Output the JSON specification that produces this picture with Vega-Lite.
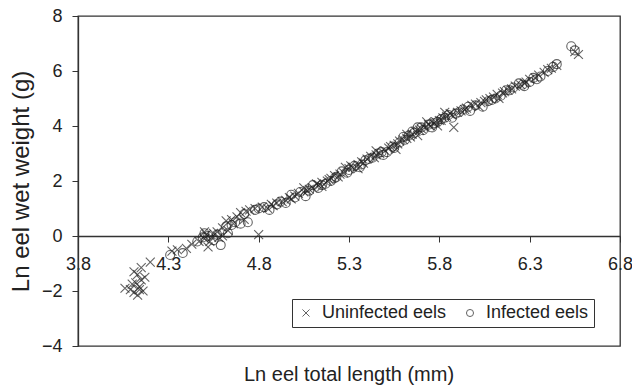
{
"$schema": "https://vega.github.io/schema/vega-lite/v6.json",
"width": 542, "height": 330,
"autosize": {"type": "none"},
"padding": {"left": 78, "top": 16, "right": 12, "bottom": 44},
"background": "white",
"config": {"view": {"stroke": "#333", "strokeWidth": 1.3}, "font": "Liberation Sans"},
"title": {"text": "Ln eel total length (mm)", "orient": "bottom", "anchor": "middle", "fontSize": 20, "fontWeight": "normal", "color": "#222", "offset": 10},
"data": {"values": [
{"x":4.06,"y":-1.9,"s":"U"},{"x":4.09,"y":-1.95,"s":"U"},{"x":4.11,"y":-2.05,"s":"U"},{"x":4.13,"y":-2.15,"s":"U"},{"x":4.14,"y":-1.85,"s":"U"},{"x":4.12,"y":-1.7,"s":"U"},{"x":4.15,"y":-1.6,"s":"U"},{"x":4.13,"y":-1.4,"s":"U"},{"x":4.11,"y":-1.3,"s":"U"},{"x":4.15,"y":-1.15,"s":"U"},{"x":4.17,"y":-1.5,"s":"U"},{"x":4.14,"y":-1.95,"s":"U"},{"x":4.16,"y":-2.0,"s":"U"},{"x":4.2,"y":-0.95,"s":"U"},{"x":4.1,"y":-1.75,"s":"U"},
{"x":4.32,"y":-0.55,"s":"U"},{"x":4.35,"y":-0.5,"s":"U"},{"x":4.4,"y":-0.45,"s":"U"},{"x":4.43,"y":-0.3,"s":"U"},{"x":4.47,"y":-0.2,"s":"U"},{"x":4.5,"y":-0.1,"s":"U"},{"x":4.51,"y":0.05,"s":"U"},{"x":4.52,"y":-0.4,"s":"U"},{"x":4.53,"y":-0.2,"s":"U"},{"x":4.55,"y":0.1,"s":"U"},{"x":4.5,"y":0.15,"s":"U"},{"x":4.58,"y":-0.05,"s":"U"},{"x":4.6,"y":0.3,"s":"U"},{"x":4.62,"y":0.55,"s":"U"},{"x":4.63,"y":0.2,"s":"U"},{"x":4.66,"y":0.45,"s":"U"},{"x":4.68,"y":0.7,"s":"U"},{"x":4.7,"y":0.85,"s":"U"},{"x":4.72,"y":0.6,"s":"U"},{"x":4.75,"y":0.95,"s":"U"},{"x":4.78,"y":1.0,"s":"U"},{"x":4.8,"y":0.05,"s":"U"},{"x":4.82,"y":1.05,"s":"U"},{"x":4.85,"y":1.0,"s":"U"},{"x":4.88,"y":1.1,"s":"U"},{"x":4.9,"y":1.2,"s":"U"},{"x":4.95,"y":1.3,"s":"U"},{"x":4.97,"y":1.4,"s":"U"},{"x":5.0,"y":1.45,"s":"U"},{"x":5.02,"y":1.55,"s":"U"},{"x":5.05,"y":1.6,"s":"U"},{"x":5.08,"y":1.7,"s":"U"},{"x":5.1,"y":1.75,"s":"U"},{"x":5.12,"y":1.9,"s":"U"},{"x":5.15,"y":1.95,"s":"U"},{"x":5.18,"y":2.0,"s":"U"},{"x":5.2,"y":2.1,"s":"U"},{"x":5.22,"y":2.2,"s":"U"},{"x":5.25,"y":2.25,"s":"U"},{"x":5.27,"y":2.3,"s":"U"},{"x":5.3,"y":2.45,"s":"U"},{"x":5.32,"y":2.5,"s":"U"},{"x":5.35,"y":2.6,"s":"U"},{"x":5.37,"y":2.7,"s":"U"},{"x":5.4,"y":2.8,"s":"U"},{"x":5.42,"y":2.9,"s":"U"},{"x":5.45,"y":2.95,"s":"U"},{"x":5.47,"y":3.0,"s":"U"},{"x":5.5,"y":3.1,"s":"U"},{"x":5.52,"y":3.2,"s":"U"},{"x":5.55,"y":3.3,"s":"U"},{"x":5.57,"y":3.35,"s":"U"},{"x":5.6,"y":3.5,"s":"U"},{"x":5.62,"y":3.55,"s":"U"},{"x":5.65,"y":3.7,"s":"U"},{"x":5.67,"y":3.8,"s":"U"},{"x":5.7,"y":3.9,"s":"U"},{"x":5.72,"y":3.95,"s":"U"},{"x":5.75,"y":4.0,"s":"U"},{"x":5.77,"y":4.1,"s":"U"},{"x":5.8,"y":4.2,"s":"U"},{"x":5.82,"y":4.3,"s":"U"},{"x":5.84,"y":4.35,"s":"U"},{"x":5.86,"y":4.45,"s":"U"},{"x":5.88,"y":3.95,"s":"U"},{"x":5.9,"y":4.5,"s":"U"},{"x":5.92,"y":4.55,"s":"U"},{"x":5.95,"y":4.65,"s":"U"},{"x":5.98,"y":4.75,"s":"U"},{"x":6.0,"y":4.8,"s":"U"},{"x":6.03,"y":4.85,"s":"U"},{"x":6.05,"y":4.9,"s":"U"},{"x":6.08,"y":5.0,"s":"U"},{"x":6.1,"y":5.05,"s":"U"},{"x":6.12,"y":5.15,"s":"U"},{"x":6.15,"y":5.2,"s":"U"},{"x":6.18,"y":5.3,"s":"U"},{"x":6.2,"y":5.35,"s":"U"},{"x":6.25,"y":5.5,"s":"U"},{"x":6.28,"y":5.6,"s":"U"},{"x":6.3,"y":5.7,"s":"U"},{"x":6.35,"y":5.85,"s":"U"},{"x":6.38,"y":5.95,"s":"U"},{"x":6.42,"y":6.1,"s":"U"},{"x":6.45,"y":6.2,"s":"U"},{"x":6.55,"y":6.7,"s":"U"},{"x":6.57,"y":6.6,"s":"U"},
{"x":5.56,"y":3.15,"s":"U"},{"x":5.62,"y":3.7,"s":"U"},{"x":5.68,"y":3.65,"s":"U"},{"x":5.73,"y":4.15,"s":"U"},{"x":5.79,"y":4.0,"s":"U"},{"x":5.83,"y":4.5,"s":"U"},{"x":5.35,"y":2.45,"s":"U"},{"x":5.28,"y":2.5,"s":"U"},{"x":5.45,"y":3.1,"s":"U"},{"x":5.15,"y":1.8,"s":"U"},{"x":5.05,"y":1.75,"s":"U"},{"x":4.93,"y":1.25,"s":"U"},{"x":4.57,"y":0.15,"s":"U"},{"x":4.54,"y":-0.05,"s":"U"},{"x":4.6,"y":0.0,"s":"U"},{"x":6.02,"y":4.7,"s":"U"},{"x":6.13,"y":5.0,"s":"U"},{"x":6.22,"y":5.45,"s":"U"},{"x":6.33,"y":5.75,"s":"U"},
{"x":4.98,"y":1.35,"s":"U"},{"x":5.07,"y":1.65,"s":"U"},{"x":5.13,"y":1.85,"s":"U"},{"x":5.24,"y":2.15,"s":"U"},{"x":5.31,"y":2.55,"s":"U"},{"x":5.38,"y":2.65,"s":"U"},{"x":5.44,"y":2.85,"s":"U"},{"x":5.53,"y":3.25,"s":"U"},{"x":5.58,"y":3.45,"s":"U"},{"x":5.64,"y":3.6,"s":"U"},{"x":5.69,"y":3.85,"s":"U"},{"x":5.74,"y":4.05,"s":"U"},{"x":5.78,"y":4.15,"s":"U"},{"x":5.81,"y":4.2,"s":"U"},{"x":5.87,"y":4.4,"s":"U"},{"x":5.94,"y":4.6,"s":"U"},{"x":6.06,"y":4.95,"s":"U"},{"x":6.16,"y":5.25,"s":"U"},{"x":6.27,"y":5.55,"s":"U"},{"x":6.4,"y":6.05,"s":"U"},{"x":4.65,"y":0.6,"s":"U"},{"x":4.73,"y":0.9,"s":"U"},{"x":4.87,"y":1.15,"s":"U"},{"x":5.19,"y":2.05,"s":"U"},
{"x":4.31,"y":-0.69,"s":"I"},{"x":4.38,"y":-0.62,"s":"I"},{"x":4.46,"y":-0.2,"s":"I"},{"x":4.49,"y":-0.05,"s":"I"},{"x":4.5,"y":0.1,"s":"I"},{"x":4.52,"y":0.0,"s":"I"},{"x":4.55,"y":-0.15,"s":"I"},{"x":4.59,"y":-0.33,"s":"I"},{"x":4.62,"y":0.35,"s":"I"},{"x":4.65,"y":0.4,"s":"I"},{"x":4.7,"y":0.45,"s":"I"},{"x":4.74,"y":0.5,"s":"I"},{"x":4.72,"y":0.8,"s":"I"},{"x":4.78,"y":0.95,"s":"I"},{"x":4.83,"y":1.05,"s":"I"},{"x":4.86,"y":0.95,"s":"I"},{"x":4.9,"y":1.15,"s":"I"},{"x":4.95,"y":1.2,"s":"I"},{"x":4.98,"y":1.5,"s":"I"},{"x":5.03,"y":1.6,"s":"I"},{"x":5.06,"y":1.45,"s":"I"},{"x":5.1,"y":1.85,"s":"I"},{"x":5.13,"y":1.75,"s":"I"},{"x":5.17,"y":1.9,"s":"I"},{"x":5.2,"y":2.0,"s":"I"},{"x":5.23,"y":2.15,"s":"I"},{"x":5.26,"y":2.35,"s":"I"},{"x":5.29,"y":2.3,"s":"I"},{"x":5.33,"y":2.55,"s":"I"},{"x":5.36,"y":2.5,"s":"I"},{"x":5.39,"y":2.75,"s":"I"},{"x":5.43,"y":2.85,"s":"I"},{"x":5.46,"y":3.0,"s":"I"},{"x":5.49,"y":2.95,"s":"I"},{"x":5.51,"y":3.05,"s":"I"},{"x":5.54,"y":3.25,"s":"I"},{"x":5.58,"y":3.4,"s":"I"},{"x":5.6,"y":3.6,"s":"I"},{"x":5.63,"y":3.65,"s":"I"},{"x":5.66,"y":3.75,"s":"I"},{"x":5.68,"y":3.95,"s":"I"},{"x":5.71,"y":3.85,"s":"I"},{"x":5.74,"y":4.05,"s":"I"},{"x":5.76,"y":3.95,"s":"I"},{"x":5.79,"y":4.15,"s":"I"},{"x":5.81,"y":4.25,"s":"I"},{"x":5.85,"y":4.4,"s":"I"},{"x":5.87,"y":4.3,"s":"I"},{"x":5.89,"y":4.45,"s":"I"},{"x":5.93,"y":4.6,"s":"I"},{"x":5.97,"y":4.55,"s":"I"},{"x":6.0,"y":4.75,"s":"I"},{"x":6.04,"y":4.7,"s":"I"},{"x":6.07,"y":4.9,"s":"I"},{"x":6.11,"y":5.0,"s":"I"},{"x":6.14,"y":5.1,"s":"I"},{"x":6.17,"y":5.3,"s":"I"},{"x":6.21,"y":5.4,"s":"I"},{"x":6.24,"y":5.55,"s":"I"},{"x":6.27,"y":5.45,"s":"I"},{"x":6.3,"y":5.6,"s":"I"},{"x":6.32,"y":5.75,"s":"I"},{"x":6.36,"y":5.8,"s":"I"},{"x":6.4,"y":6.0,"s":"I"},{"x":6.43,"y":6.15,"s":"I"},{"x":6.53,"y":6.9,"s":"I"},{"x":6.55,"y":6.75,"s":"I"},
{"x":5.0,"y":1.4,"s":"I"},{"x":5.08,"y":1.65,"s":"I"},{"x":5.15,"y":1.85,"s":"I"},{"x":5.22,"y":2.1,"s":"I"},{"x":5.3,"y":2.4,"s":"I"},{"x":5.37,"y":2.6,"s":"I"},{"x":5.41,"y":2.8,"s":"I"},{"x":5.48,"y":3.05,"s":"I"},{"x":5.55,"y":3.2,"s":"I"},{"x":5.61,"y":3.5,"s":"I"},{"x":5.65,"y":3.8,"s":"I"},{"x":5.7,"y":3.95,"s":"I"},{"x":5.77,"y":4.1,"s":"I"},{"x":5.83,"y":4.3,"s":"I"},{"x":5.91,"y":4.5,"s":"I"},{"x":5.96,"y":4.7,"s":"I"},{"x":6.09,"y":4.95,"s":"I"},{"x":6.19,"y":5.3,"s":"I"},{"x":6.26,"y":5.5,"s":"I"},{"x":6.34,"y":5.7,"s":"I"},{"x":6.45,"y":6.25,"s":"I"},{"x":4.67,"y":0.5,"s":"I"},{"x":4.8,"y":1.0,"s":"I"},{"x":4.92,"y":1.25,"s":"I"},{"x":4.57,"y":0.05,"s":"I"},{"x":4.63,"y":0.1,"s":"I"}
]},
"mark": {"type": "point", "filled": false, "strokeWidth": 1.1, "size": 80},
"encoding": {
"x": {"field": "x", "type": "quantitative", "scale": {"domain": [3.8, 6.8], "nice": false, "zero": false},
 "axis": {"values": [3.8, 4.3, 4.8, 5.3, 5.8, 6.3, 6.8], "format": ".1f", "offset": -110, "title": null, "grid": false, "domainColor": "#333", "domainWidth": 1.3, "tickColor": "#333", "tickSize": 6, "labelPadding": 13, "labelFontSize": 18, "labelColor": "#222", "labelFlush": false, "labelOverlap": false}},
"y": {"field": "y", "type": "quantitative", "scale": {"domain": [-4, 8], "nice": false},
 "axis": {"values": [-4, -2, 0, 2, 4, 6, 8], "title": "Ln eel wet weight (g)", "titleFontSize": 24, "titleFontWeight": "normal", "titleColor": "#222", "titlePadding": 8, "grid": false, "domainColor": "#333", "domainWidth": 1.3, "tickColor": "#333", "tickSize": 6, "labelPadding": 10, "labelFontSize": 18, "labelColor": "#222"}},
"shape": {"field": "s", "type": "nominal", "scale": {"domain": ["U", "I"], "range": ["M-1,-1L1,1M-1,1L1,-1", "circle"]},
 "legend": {"title": null, "orient": "none", "legendX": 214, "legendY": 283, "direction": "horizontal", "strokeColor": "#333", "fillColor": "white", "padding": 5, "labelFontSize": 18, "labelColor": "#222", "symbolSize": 50, "symbolStrokeWidth": 1, "symbolStrokeColor": "#222", "symbolFillColor": "transparent", "columnPadding": 14, "labelOffset": 7,
  "labelExpr": "datum.label == 'U' ? 'Uninfected eels' : 'Infected eels'"}},
"color": {"value": "#222"}
}
}
